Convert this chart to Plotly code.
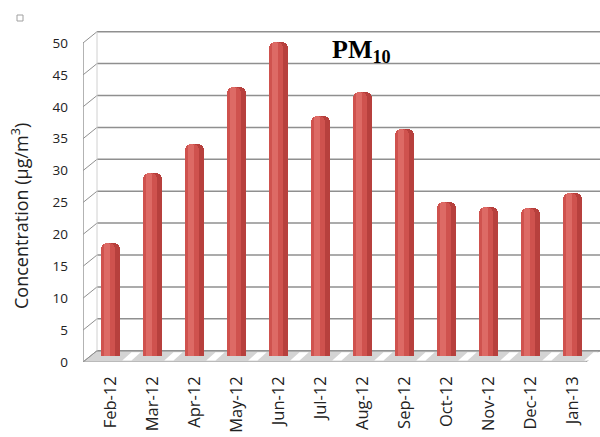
import plotly.graph_objects as go

# Monthly mean PM10 concentrations (µg/m³)
months = ["Feb-12", "Mar-12", "Apr-12", "May-12", "Jun-12", "Jul-12",
          "Aug-12", "Sep-12", "Oct-12", "Nov-12", "Dec-12", "Jan-13"]
pm10 = [17.7, 28.7, 33.3, 42.2, 49.2, 37.7, 41.4, 35.6, 24.2, 23.4, 23.2, 25.6]
y_ticks = [0, 5, 10, 15, 20, 25, 30, 35, 40, 45, 50]

W, H = 600, 437
L, R, T, B = 83, 0, 30, 75          # front axis: x=83, zero at y=362
px_per_cat = 42.0
px_per_unit = 6.38
x_lo = -(110.5 - L) / px_per_cat
x_hi = x_lo + (W - L - R) / px_per_cat
y_lo = 0.0
y_hi = (H - T - B) / px_per_unit

# 3-D depth offset of the back wall (in axis units)
dx = 14 / px_per_cat
dy = 11.3 / px_per_unit
mid = dy / 2                         # bars stand at mid depth

idx = list(range(len(months)))
fig = go.Figure()

# cylinder-like bars: dark body, mid shade and highlight stripe
bar_layers = [
    (0.46, -0.23, "#b7403d", 6),
    (0.34, -0.23, "#cf524e", 6),
    (0.14, -0.16, "#dd6a65", 4),
]
for width, offset, colour, radius in bar_layers:
    fig.add_trace(go.Bar(x=idx, y=pm10, width=width, offset=offset, yaxis="y2",
                         marker=dict(color=colour, cornerradius=radius, line=dict(width=0)),
                         hoverinfo="skip"))

shapes = []
grid_col = "#8f8f8f"
x_back = x_lo + dx
# floor
floor_front = 0.0
shapes.append(dict(type="path", xref="x", yref="y", layer="below",
                   path=f"M {x_lo},{floor_front} L {x_back},{dy} L {x_hi},{dy} L {x_hi - dx},{floor_front} Z",
                   fillcolor="#d4d4d4", line=dict(color="#a0a0a0", width=1)))
# light streaks on the floor between bars
for i in idx:
    a = i + 0.28
    shapes.append(dict(type="path", xref="x", yref="y", layer="below",
                       path=f"M {a},{floor_front + 0.25} L {a + 0.22},{dy - 0.25} L {a + 0.44},{dy - 0.25} L {a + 0.22},{floor_front + 0.25} Z",
                       fillcolor="#ffffff", line=dict(width=0)))
# back-wall gridlines and slanted side-wall lines
for v in y_ticks:
    shapes.append(dict(type="line", xref="x", yref="y", layer="below",
                       x0=x_back, x1=x_hi, y0=v + dy, y1=v + dy,
                       line=dict(color=grid_col, width=1.5)))
    shapes.append(dict(type="line", xref="x", yref="y", layer="below",
                       x0=x_lo, x1=x_back, y0=v, y1=v + dy,
                       line=dict(color=grid_col, width=1)))
# side wall back edge
shapes.append(dict(type="line", xref="x", yref="y", layer="below",
                   x0=x_back, x1=x_back, y0=dy, y1=y_ticks[-1] + dy,
                   line=dict(color="#d0d0d0", width=1)))
# front vertical axis line
shapes.append(dict(type="line", xref="x", yref="y",
                   x0=x_lo, x1=x_lo, y0=-0.4, y1=y_ticks[-1],
                   line=dict(color="#9a9a9a", width=1.5)))
# small marker box at the top-left corner
pw, ph = W - L - R, H - T - B
shapes.append(dict(type="rect", xref="paper", yref="paper",
                   x0=(17 - L) / pw, x1=(23 - L) / pw,
                   y0=(H - B - 21) / ph, y1=(H - B - 15) / ph,
                   line=dict(color="#a0a0a0", width=1), fillcolor="white"))

annotations = [
    dict(text="<b>PM<sub>10</sub></b>", xref="paper", yref="paper",
         x=(361 - L) / pw, y=(H - B - 51) / ph,
         showarrow=False, xanchor="center", yanchor="middle",
         font=dict(family="Liberation Serif, Times New Roman, serif", size=26, color="#000")),
    dict(text="Concentration (µg/m<sup>3</sup>)", xref="paper", yref="paper",
         x=(20 - L) / pw, y=(H - B - 216) / ph,
         textangle=-90, showarrow=False, xanchor="center", yanchor="middle",
         font=dict(family="Open Sans, sans-serif", size=18, color="#222")),
]

fig.update_layout(
    width=W, height=H,
    margin=dict(l=L, r=R, t=T, b=B, pad=0),
    paper_bgcolor="white", plot_bgcolor="white",
    barmode="overlay", showlegend=False, bargap=0,
    shapes=shapes, annotations=annotations,
    xaxis=dict(range=[x_lo, x_hi], tickmode="array", tickvals=idx, ticktext=months,
               tickangle=-90, showgrid=False, zeroline=False, showline=False,
               ticks="", ticklabelstandoff=10,
               tickfont=dict(family="Open Sans, sans-serif", size=16.5, color="#222")),
    yaxis=dict(range=[y_lo, y_hi], tickmode="array", tickvals=y_ticks,
               showgrid=False, zeroline=False, showline=False, ticks="",
               ticklabelstandoff=14,
               tickfont=dict(family="Open Sans, sans-serif", size=13.5, color="#222")),
    yaxis2=dict(range=[y_lo - mid, y_hi - mid], overlaying="y", visible=False),
)

fig.write_html("out.html")
